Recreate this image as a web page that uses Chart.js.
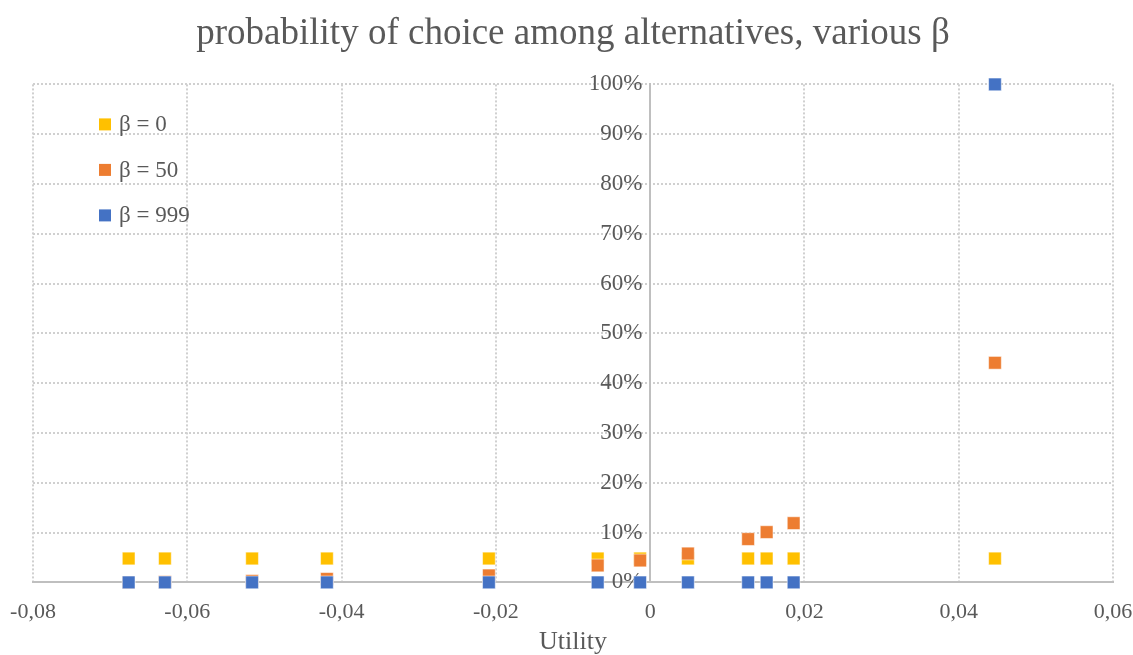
<!DOCTYPE html>
<html>
<head>
<meta charset="utf-8">
<script src="https://cdn.jsdelivr.net/npm/chart.js@4.4.1/dist/chart.umd.min.js"></script>
<style>
  html,body{margin:0;padding:0;background:#fff;}
  #wrap{width:1133px;height:655px;}
</style>
</head>
<body>
<div id="wrap"><canvas id="c" width="1133" height="655"></canvas></div>
<script>
// utility of each alternative
const UTILITY = [-0.0676,-0.0629,-0.0516,-0.0419,-0.0209,-0.0068,-0.0013,0.0049,0.0127,0.0151,0.0186,0.0447];
// probability of choice per beta
const P_BETA0   = [0.048,0.048,0.048,0.048,0.048,0.048,0.048,0.048,0.048,0.048,0.048,0.048];
const P_BETA50  = [0.000,0.001,0.003,0.007,0.014,0.034,0.044,0.058,0.087,0.101,0.119,0.441];
const P_BETA999 = [0,0,0,0,0,0,0,0,0,0,0,1];
const LABELS = ['β = 0','β = 50','β = 999'];
const COLORS = ['#FFC000','#ED7D31','#4472C4'];
const X_TICKS = [-0.08,-0.06,-0.04,-0.02,0,0.02,0.04,0.06];

const SERIF = '"Liberation Serif","DejaVu Serif",serif';
const TXT = '#595959';

const pts = ys => UTILITY.map((x,i)=>({x:x,y:ys[i]}));

// legend drawn inside the plot, top-left
const insideLegend = {
  id:'insideLegend',
  afterDraw(chart){
    const {ctx, chartArea:a} = chart;
    ctx.save();
    ctx.font = '23px '+SERIF;
    ctx.textBaseline = 'middle';
    const order = [2,1,0]; // datasets reversed for draw order
    order.forEach((di,k)=>{
      const ds = chart.data.datasets[di];
      const y = a.top + 40 + k*45.5;
      const x = a.left + 72;
      ctx.fillStyle = ds.backgroundColor;
      ctx.fillRect(x-6, y-6, 12, 12);
      ctx.fillStyle = TXT;
      ctx.fillText(ds.label, x+14, y+1);
    });
    ctx.restore();
  }
};

new Chart(document.getElementById('c'),{
  type:'scatter',
  data:{
    datasets:[
      {label:LABELS[2],data:pts(P_BETA999),backgroundColor:COLORS[2],order:1},
      {label:LABELS[1],data:pts(P_BETA50),backgroundColor:COLORS[1],order:2},
      {label:LABELS[0],data:pts(P_BETA0),backgroundColor:COLORS[0],order:3},
    ].map(d=>Object.assign(d,{pointStyle:'rect',pointRadius:9,pointHoverRadius:9,borderWidth:1,
      borderColor:'rgba(255,255,255,0.5)',clip:false}))
  },
  options:{
    responsive:false,
    animation:false,
    layout:{padding:{left:33,right:20,top:0,bottom:0}},
    plugins:{
      legend:{display:false},
      tooltip:{enabled:false},
      title:{display:true,text:'probability of choice among alternatives, various β',
        color:TXT,font:{family:SERIF,size:37,weight:'normal'},padding:{top:12,bottom:28}}
    },
    scales:{
      x:{type:'linear',min:-0.08,max:0.06,
        afterBuildTicks:s=>{s.ticks = X_TICKS.map(v=>({value:v}));},
        afterFit:s=>{s.paddingLeft = 0; s.paddingRight = 0;},
        grid:{color:'#d0d0d0',lineWidth:2,drawTicks:false},
        border:{display:true,color:'#bfbfbf',width:2,dash:[2,2]},
        ticks:{color:TXT,font:{family:SERIF,size:22},padding:17,
          callback:v=>v===0?'0':v.toFixed(2).replace('.',',')},
        title:{display:true,text:'Utility',color:TXT,font:{family:SERIF,size:26},padding:{top:-16,bottom:-3}}
      },
      y:{type:'linear',min:0,max:1,position:{x:0},
        grid:{color:'#d0d0d0',lineWidth:2,drawTicks:false},
        border:{display:true,color:'#bfbfbf',width:2,dash:[2,2]},
        // padding is not applied for a crossing axis, so a small space keeps labels off the line
        ticks:{stepSize:0.1,color:TXT,font:{family:SERIF,size:23},
          callback:v=>Math.round(v*100)+'%\u2004'}
      }
    }
  },
  plugins:[insideLegend]
});
</script>
</body>
</html>
